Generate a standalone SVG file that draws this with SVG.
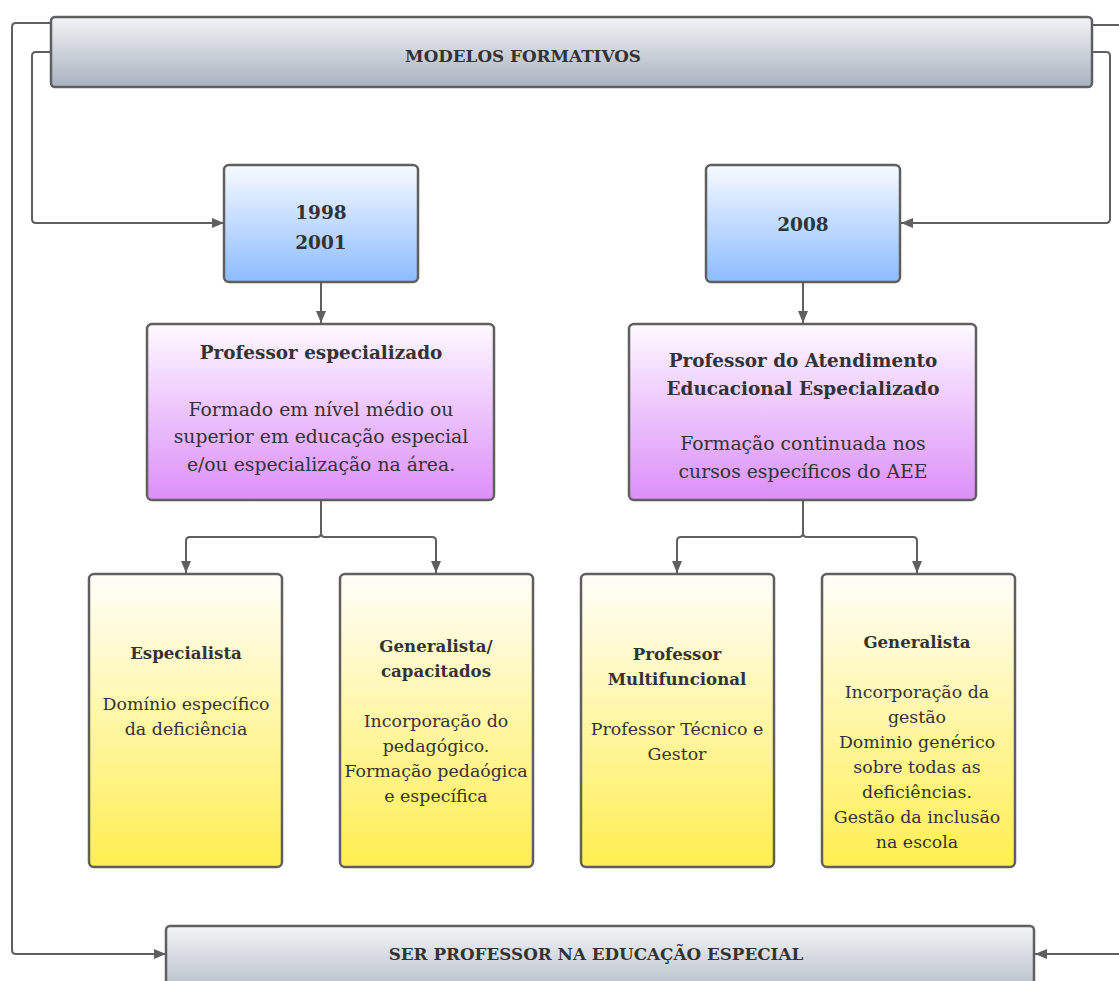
<svg xmlns="http://www.w3.org/2000/svg" width="1119" height="981" viewBox="0 0 1119 981">
<defs>
<linearGradient id="gGray" x1="0" y1="0" x2="0" y2="1"><stop offset="0" stop-color="#f3f4f6"/><stop offset="1" stop-color="#a8b2bf"/></linearGradient>
<linearGradient id="gBlue" x1="0" y1="0" x2="0" y2="1"><stop offset="0" stop-color="#f7faff"/><stop offset="1" stop-color="#8bbcff"/></linearGradient>
<linearGradient id="gPurple" x1="0" y1="0" x2="0" y2="1"><stop offset="0" stop-color="#fdf9ff"/><stop offset="1" stop-color="#dc8ff9"/></linearGradient>
<linearGradient id="gYellow" x1="0" y1="0" x2="0" y2="1"><stop offset="0" stop-color="#fffefa"/><stop offset="1" stop-color="#ffee50"/></linearGradient>
<marker id="arr" viewBox="0 0 12 10" refX="12" refY="5" markerWidth="12" markerHeight="10" markerUnits="userSpaceOnUse" orient="auto"><path d="M0,0 L12,5 L0,10 Z" fill="#5f5f5f"/></marker>
</defs>
<style>
.box{stroke:#5f5f5f;stroke-width:2.5}
.conn{fill:none;stroke:#5f5f5f;stroke-width:2;stroke-linejoin:round}
text{font-family:"DejaVu Serif","Liberation Serif",serif;fill:#333;text-anchor:middle}
.b{font-weight:bold}
.h{font-size:16.8px;font-weight:bold}
.y{font-size:18.5px;font-weight:bold}
.pt{font-size:18.4px;font-weight:bold}
.pb{font-size:18.8px}
.yt{font-size:16.6px;font-weight:bold}
.yb{font-size:17.4px}
</style>
<rect width="1119" height="981" fill="#fff"/>
<g id="connectors">
<path class="conn" d="M51,23 H16 Q12,23 12,27 V950 Q12,954 16,954 H166" marker-end="url(#arr)"/>
<path class="conn" d="M51,52 H36 Q32,52 32,56 V219 Q32,223 36,223 H224" marker-end="url(#arr)"/>
<path class="conn" d="M1092,25 H1119"/>
<path class="conn" d="M1092,52 H1106 Q1110,52 1110,56 V219 Q1110,223 1106,223 H901" marker-end="url(#arr)"/>
<path class="conn" d="M1119,954 H1035" marker-end="url(#arr)"/>
<path class="conn" d="M321,282 V323" marker-end="url(#arr)"/>
<path class="conn" d="M803,282 V323" marker-end="url(#arr)"/>
<path class="conn" d="M321,500 V533 Q321,537 317,537 H190 Q186,537 186,541 V573" marker-end="url(#arr)"/>
<path class="conn" d="M321,533 Q321,537 325,537 H432 Q436,537 436,541 V573" marker-end="url(#arr)"/>
<path class="conn" d="M803,500 V533 Q803,537 799,537 H681 Q677,537 677,541 V573" marker-end="url(#arr)"/>
<path class="conn" d="M803,533 Q803,537 807,537 H913 Q917,537 917,541 V573" marker-end="url(#arr)"/>
</g>
<g id="modelos">
<rect class="box" x="51" y="17" width="1041" height="70" rx="4" fill="url(#gGray)"/>
<text class="h" x="523" y="62">MODELOS FORMATIVOS</text>
</g>
<g id="ano1998">
<rect class="box" x="224" y="165" width="194" height="117" rx="5" fill="url(#gBlue)"/>
<text class="y" x="321" y="219">1998</text>
<text class="y" x="321" y="249">2001</text>
</g>
<g id="ano2008">
<rect class="box" x="706" y="165" width="194" height="117" rx="5" fill="url(#gBlue)"/>
<text class="y" x="803" y="231">2008</text>
</g>
<g id="profEspecializado">
<rect class="box" x="147" y="324" width="347" height="176" rx="5" fill="url(#gPurple)"/>
<text class="pt" x="321" y="359">Professor especializado</text>
<text class="pb" x="321" y="416">Formado em nível médio ou</text>
<text class="pb" x="321" y="443">superior em educação especial</text>
<text class="pb" x="321" y="471">e/ou especialização na área.</text>
</g>
<g id="profAEE">
<rect class="box" x="629" y="324" width="347" height="176" rx="5" fill="url(#gPurple)"/>
<text class="pt" x="803" y="367">Professor do Atendimento</text>
<text class="pt" x="803" y="395">Educacional Especializado</text>
<text class="pb" x="803" y="450">Formação continuada nos</text>
<text class="pb" x="803" y="478">cursos específicos do AEE</text>
</g>
<g id="especialista">
<rect class="box" x="89" y="574" width="193" height="293" rx="5" fill="url(#gYellow)"/>
<text class="yt" x="186" y="659">Especialista</text>
<text class="yb" x="186" y="710">Domínio específico</text>
<text class="yb" x="186" y="735">da deficiência</text>
</g>
<g id="generalistaCap">
<rect class="box" x="340" y="574" width="193" height="293" rx="5" fill="url(#gYellow)"/>
<text class="yt" x="436" y="652">Generalista/</text>
<text class="yt" x="436" y="677">capacitados</text>
<text class="yb" x="436" y="727">Incorporação do</text>
<text class="yb" x="436" y="752">pedagógico.</text>
<text class="yb" x="436" y="777">Formação pedaógica</text>
<text class="yb" x="436" y="802">e específica</text>
</g>
<g id="multifuncional">
<rect class="box" x="581" y="574" width="193" height="293" rx="5" fill="url(#gYellow)"/>
<text class="yt" x="677" y="660">Professor</text>
<text class="yt" x="677" y="685">Multifuncional</text>
<text class="yb" x="677" y="735">Professor Técnico e</text>
<text class="yb" x="677" y="760">Gestor</text>
</g>
<g id="generalista">
<rect class="box" x="822" y="574" width="193" height="293" rx="5" fill="url(#gYellow)"/>
<text class="yt" x="917" y="648">Generalista</text>
<text class="yb" x="917" y="698">Incorporação da</text>
<text class="yb" x="917" y="723">gestão</text>
<text class="yb" x="917" y="748">Dominio genérico</text>
<text class="yb" x="917" y="773">sobre todas as</text>
<text class="yb" x="917" y="798">deficiências.</text>
<text class="yb" x="917" y="823">Gestão da inclusão</text>
<text class="yb" x="917" y="848">na escola</text>
</g>
<g id="serProfessor">
<rect class="box" x="166" y="926" width="868" height="80" rx="4" fill="url(#gGray)"/>
<text class="h" x="596" y="960">SER PROFESSOR NA EDUCAÇÃO ESPECIAL</text>
</g>
</svg>
